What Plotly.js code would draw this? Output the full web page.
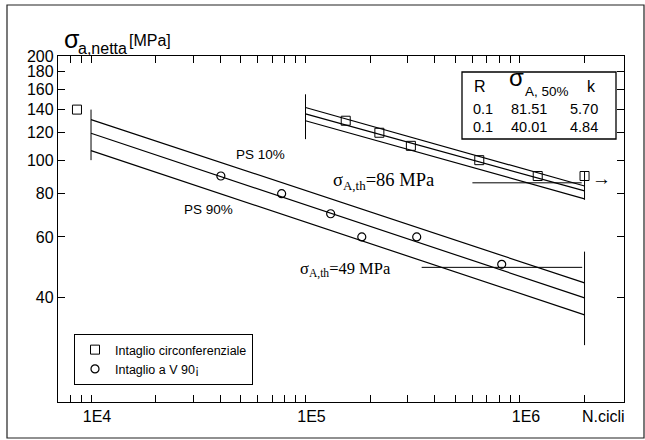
<!DOCTYPE html>
<html>
<head>
<meta charset="utf-8">
<script src="https://cdn.plot.ly/plotly-3.0.1.min.js"></script>
<style>html,body{margin:0;padding:0;background:#fff;}#chart{width:645px;height:440px;}</style>
</head>
<body>
<div id="chart"></div>
<script>
// ---- data ----
const circN = [8600, 1.54e5, 2.21e5, 3.10e5, 6.46e5, 1.21e6, 2.0e6];   // Intaglio circonferenziale
const circS = [140, 130, 120, 110, 100, 90, 90];
const vN = [4.03e4, 7.74e4, 1.31e5, 1.83e5, 3.30e5, 8.22e5];           // Intaglio a V 90°
const vS = [90, 80, 70, 60, 60, 50];

const vLineN = [1e4, 2e6];
const vPS10 = [131, 44.2];
const vPS50 = [119.6, 40.01];
const vPS90 = [106.5, 35.7];

const cLineN = [1e5, 2e6];
const cPS10 = [142, 84.2];
const cPS50 = [136, 81.51];
const cPS90 = [130, 77.3];

const limV1 = {n: [1e4, 1e4], s: [100, 140]};
const limV2 = {n: [2e6, 2e6], s: [29.2, 54.4]};
const limC1 = {n: [1e5, 1e5], s: [115, 155]};
const limC2 = {n: [2e6, 2e6], s: [76.8, 92.4]};

const thC = {n: [6.0e5, 1.94e6], s: [86, 86]};
const thV = {n: [3.48e5, 1.95e6], s: [49, 49]};

const xMajorVals = [1e4, 1e5, 1e6];
const xMajorText = ['1E4', '1E5', '1E6'];
const xMinorVals = [8000, 9000, 2e4, 3e4, 4e4, 5e4, 6e4, 7e4, 8e4, 9e4,
  2e5, 3e5, 4e5, 5e5, 6e5, 7e5, 8e5, 9e5, 2e6];
const yTickVals = [40, 60, 80, 100, 120, 140, 160, 180, 200];

const tableR = ['0.1', '0.1'];
const tableSigma = ['81.51', '40.01'];
const tableK = ['5.70', '4.84'];

// ---- layout helpers (pixel -> paper) ----
const L = 58, R = 624, T = 56, B = 402;
const px = x => (x - L) / (R - L);
const py = y => (B - y) / (B - T);
const SANS = 'Liberation Sans, Arial, sans-serif';
const SERIF = 'Liberation Serif, Times New Roman, serif';

function line(n, s, w) {
  return {x: n, y: s, mode: 'lines', type: 'scatter', showlegend: false,
    hoverinfo: 'skip', line: {color: '#000', width: w || 1.2}};
}

const traces = [
  line(vLineN, vPS10), line(vLineN, vPS50), line(vLineN, vPS90),
  line(cLineN, cPS10), line(cLineN, cPS50), line(cLineN, cPS90),
  line(limV1.n, limV1.s, 1), line(limV2.n, limV2.s, 1),
  line(limC1.n, limC1.s, 1), line(limC2.n, limC2.s, 1),
  line(thC.n, thC.s, 1), line(thV.n, thV.s, 1),
  {x: circN, y: circS, mode: 'markers', type: 'scatter', name: 'Intaglio circonferenziale',
    marker: {symbol: 'square-open', size: 9, color: '#000', line: {width: 1, color: '#000'}}},
  {x: vN, y: vS, mode: 'markers', type: 'scatter', name: 'Intaglio a V 90¡',
    marker: {symbol: 'circle-open', size: 8, color: '#000', line: {width: 1.2, color: '#000'}}}
];

function ann(text, x, y, size, opts) {
  return Object.assign({text: text, xref: 'paper', yref: 'paper', x: px(x), y: py(y),
    xanchor: 'left', yanchor: 'middle', showarrow: false,
    font: {family: SANS, size: size, color: '#000'}}, opts || {});
}

const annotations = [
  ann('σ', 62, 39, 25),
  ann('a,netta', 76, 48, 16),
  ann('[MPa]', 127, 40, 16),
  ann('N.cicli', 580, 416, 16),
  ann('PS 10%', 234, 154, 13.5),
  ann('PS 90%', 182, 209, 13.5),
  ann('σ<sub>A,th</sub>=86 MPa', 331, 181, 18.5, {font: {family: SERIF, size: 18.5, color: '#000'}}),
  ann('σ<sub>A,th</sub>=49 MPa', 298, 269, 16.5, {font: {family: SERIF, size: 16.5, color: '#000'}}),
  ann('→', 590, 178, 19, {font: {family: SERIF, size: 19, color: '#000'}}),
  ann('R', 480, 86, 16, {xanchor: 'center'}),
  ann('σ', 516, 77, 24, {xanchor: 'center'}),
  ann('A, 50%', 523, 92, 13.5),
  ann('k', 591, 86, 16, {xanchor: 'center'}),
  ann(tableR[0], 483, 109, 14.5, {xanchor: 'center'}),
  ann(tableSigma[0], 529, 109, 14.5, {xanchor: 'center'}),
  ann(tableK[0], 584, 109, 14.5, {xanchor: 'center'}),
  ann(tableR[1], 483, 127, 14.5, {xanchor: 'center'}),
  ann(tableSigma[1], 529, 127, 14.5, {xanchor: 'center'}),
  ann(tableK[1], 584, 127, 14.5, {xanchor: 'center'})
];

const shapes = [
  {type: 'rect', xref: 'paper', yref: 'paper', x0: px(462), x1: px(616), y0: py(139), y1: py(72),
    line: {color: '#000', width: 1.3}, fillcolor: '#fff', layer: 'above'},
  {type: 'rect', xref: 'paper', yref: 'paper', x0: px(7), x1: px(644), y0: py(438), y1: py(5),
    line: {color: '#222', width: 1.2}, fillcolor: 'rgba(0,0,0,0)', layer: 'below'}
];

const layout = {
  width: 645, height: 440, autosize: false,
  margin: {l: L, r: 645 - R, t: T, b: 440 - B, pad: 0},
  paper_bgcolor: '#fff', plot_bgcolor: '#fff',
  font: {family: SANS, color: '#000'},
  showlegend: true,
  legend: {x: px(74), y: py(334), xanchor: 'left', yanchor: 'top',
    bgcolor: '#fff', bordercolor: '#000', borderwidth: 1,
    font: {family: SANS, size: 12.5, color: '#000'}, itemwidth: 30, tracegroupgap: 0},
  xaxis: {type: 'log', range: [3.846, 6.485], tickmode: 'array', tickvals: xMajorVals,
    ticktext: xMajorText, ticks: 'inside', ticklen: 7, tickcolor: '#000', tickwidth: 1,
    minor: {tickmode: 'array', tickvals: xMinorVals, ticks: 'inside', ticklen: 7,
      tickcolor: '#000', tickwidth: 1, showgrid: false},
    showline: true, linecolor: '#000', linewidth: 1.2, mirror: 'ticks',
    showgrid: false, zeroline: false, ticklabelshift: 6,
    tickfont: {family: SANS, size: 16, color: '#000'}},
  yaxis: {type: 'log', range: [Math.log10(20), Math.log10(200)], tickmode: 'array',
    tickvals: yTickVals, ticktext: yTickVals.map(String), ticks: 'inside', ticklen: 7,
    tickcolor: '#000', tickwidth: 1, showline: true, linecolor: '#000', linewidth: 1.2,
    mirror: 'ticks', showgrid: false, zeroline: false,
    tickfont: {family: SANS, size: 16, color: '#000'}},
  annotations: annotations,
  shapes: shapes
};

Plotly.newPlot('chart', traces, layout, {displayModeBar: false, staticPlot: true});
</script>
</body>
</html>
